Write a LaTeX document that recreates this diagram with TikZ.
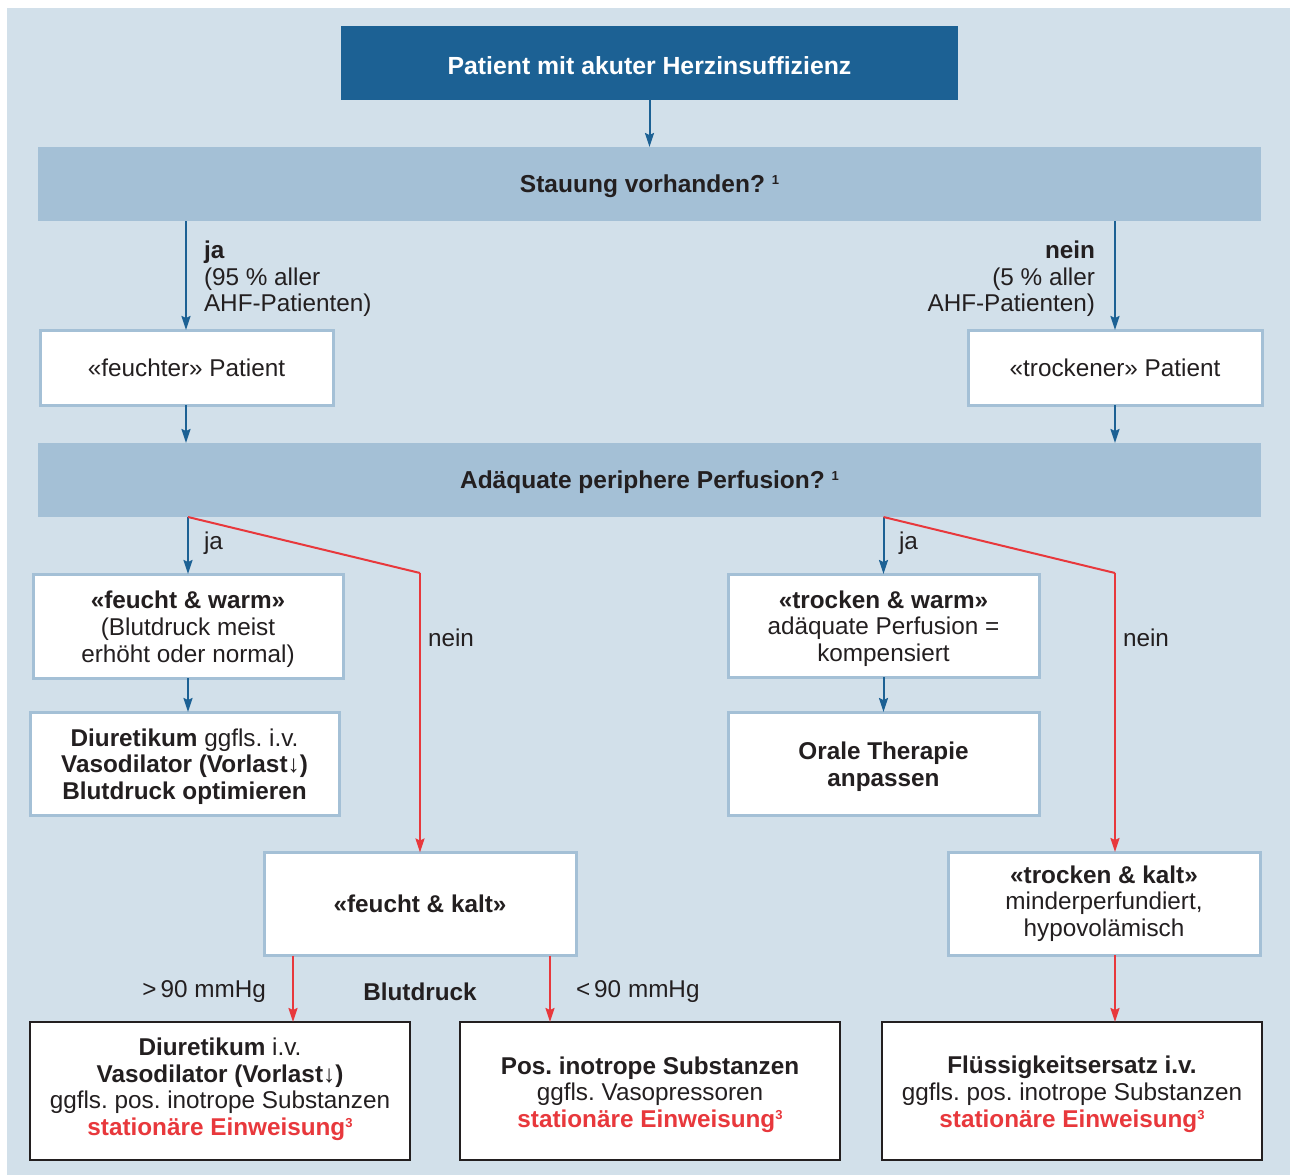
\documentclass[tikz,border=0pt]{standalone}
\usepackage{fontspec}
\setmainfont{Liberation Sans}
\usetikzlibrary{arrows.meta}
\definecolor{bg}{RGB}{210,224,234}
\definecolor{dblue}{RGB}{28,97,148}
\definecolor{bandc}{RGB}{164,192,214}
\definecolor{rd}{RGB}{232,56,60}
\definecolor{txt}{RGB}{35,31,32}
\newcommand{\supnum}[1]{\raisebox{8pt}{\fontsize{13}{13}\selectfont\bfseries #1}}
\newcommand{\tdn}[1]{\rule{0pt}{#1}}
\newcommand{\tup}[1]{\rule[-#1]{0pt}{#1}}
\frenchspacing
\begin{document}
\begin{tikzpicture}[x=1pt,y=-1pt,
  every node/.style={text=txt, font=\fontsize{24.3}{26.6}\selectfont, inner sep=0pt, outer sep=0pt},
  tdown/.style={execute at begin node={\rule{0pt}{23pt}}},
  lbox/.style={draw=bandc, line width=3pt, fill=white, align=center},
  kbox/.style={draw=txt, line width=2pt, fill=white, align=center, minimum width=380pt, minimum height=138pt},
  barbox/.style={fill=bandc, minimum width=1223pt, minimum height=74pt, tdown, font=\fontsize{24.5}{27}\selectfont\bfseries},
  barrow/.style={draw=dblue, line width=2pt, -{Stealth[length=14pt,width=9pt,inset=2pt]}},
  rarrow/.style={draw=rd, line width=2pt, -{Stealth[length=14pt,width=9pt,inset=2pt]}},
  rline/.style={draw=rd, line width=2pt, line join=miter}]
\useasboundingbox (0,0) rectangle (1290,1175);
\fill[bg] (7,8) rectangle (1290,1175);

% top
\node[fill=dblue, minimum width=617pt, minimum height=74pt, text=white, tdown, font=\fontsize{24.8}{27}\selectfont\bfseries] (top) at (649.5,63) {Patient mit akuter Herzinsuffizienz};
\node[barbox] (band1) at (649.5,184) {Stauung vorhanden? \supnum{1}};
\node[barbox] (band2) at (649.5,480) {Adäquate periphere Perfusion? \supnum{1}};

\node[lbox, minimum width=293pt, minimum height=75pt] (feuchter) at (186.5,367.5) {«feuchter» Patient};
\node[lbox, minimum width=294pt, minimum height=75pt] (trockener) at (1115,367.5) {«trockener» Patient};

\node[lbox, minimum width=310pt, minimum height=104pt] (fw) at (188,626) {\tdn{24pt}\textbf{«feucht \& warm»}\\(Blutdruck meist\\erhöht oder normal)};
\node[lbox, minimum width=309pt, minimum height=103pt] (diu) at (184.5,763.5) {\tdn{24pt}\textbf{Diuretikum} ggfls. i.v.\\\textbf{Vasodilator (Vorlast↓)}\\\textbf{Blutdruck optimieren}};
\node[lbox, minimum width=311pt, minimum height=103pt] (tw) at (883.5,625.5) {\tdn{24pt}\textbf{«trocken \& warm»}\\adäquate Perfusion =\\kompensiert};
\node[lbox, minimum width=311pt, minimum height=103pt] (orale) at (883.5,763.5) {\tdn{24pt}\textbf{Orale Therapie}\\\textbf{anpassen}};
\node[lbox, minimum width=312pt, minimum height=103pt] (fk) at (420,904) {\textbf{«feucht \& kalt»}};
\node[lbox, minimum width=312pt, minimum height=103pt] (tk) at (1104,903.5) {\textbf{«trocken \& kalt»}\\minderperfundiert,\\hypovolämisch};

\node[kbox] (b1) at (220,1091) {\textbf{Diuretikum} i.v.\\\textbf{Vasodilator (Vorlast↓)}\\ggfls. pos. inotrope Substanzen\\\textcolor{rd}{\textbf{stationäre Einweisung}\supnum{3}}\tup{9pt}};
\node[kbox] (b2) at (650,1091) {\tdn{24.5pt}\textbf{Pos. inotrope Substanzen}\\ggfls. Vasopressoren\\\textcolor{rd}{\textbf{stationäre Einweisung}\supnum{3}}};
\node[kbox] (b3) at (1072,1091) {\tdn{24pt}\textbf{Flüssigkeitsersatz i.v.}\\ggfls. pos. inotrope Substanzen\\\textcolor{rd}{\textbf{stationäre Einweisung}\supnum{3}}};

% coordinates
\coordinate (lx) at (186,0);
\coordinate (rx) at (1115,0);
\coordinate (lcorner) at (420,573);
\coordinate (rcorner) at (1115,573);
\coordinate (g90) at (293,0);
\coordinate (k90) at (550,0);

% connectors
\draw[barrow] (top.south) -- (band1.north);
\draw[barrow] (band1.south -| lx) -- (feuchter.north -| lx);
\draw[barrow] (band1.south -| rx) -- (trockener.north -| rx);
\draw[barrow] (feuchter.south -| lx) -- (band2.north -| lx);
\draw[barrow] (trockener.south -| rx) -- (band2.north -| rx);

\draw[barrow] (band2.south -| fw.north) -- (fw.north);
\draw[rline] (band2.south -| fw.north) -- (lcorner);
\draw[rarrow] (lcorner) -- (fk.north);
\draw[barrow] (fw.south) -- (fw.south |- diu.north);

\draw[barrow] (band2.south -| tw.north) -- (tw.north);
\draw[rline] (band2.south -| tw.north) -- (rcorner);
\draw[rarrow] (rcorner) -- (rcorner |- tk.north);
\draw[barrow] (tw.south) -- (orale.north);

\draw[rarrow] (fk.south -| g90) -- (b1.north -| g90);
\draw[rarrow] (fk.south -| k90) -- (b2.north -| k90);
\draw[rarrow] (tk.south -| rx) -- (b3.north -| rx);

% labels
\node[anchor=west, align=left] (ljalab) at (204,279) {\textbf{ja}\\(95 \% aller\\AHF-Patienten)};
\node[anchor=east, align=right] (rneinlab) at (1095,279) {\textbf{nein}\\(5 \% aller\\AHF-Patienten)};
\node[anchor=west] (ja1) at (204,543) {ja};
\node[anchor=west] (ja2) at (899,543) {ja};
\node[anchor=west] (nein1) at (428,638) {nein};
\node[anchor=west] (nein2) at (1123,638) {nein};
\node[anchor=east] (gt) at (266,992) {>\,90 mmHg};
\node[font=\fontsize{24.3}{26.6}\selectfont\bfseries] (bd) at (420,992) {Blutdruck};
\node[anchor=west] (lt) at (576,992) {<\,90 mmHg};
\end{tikzpicture}
\end{document}
